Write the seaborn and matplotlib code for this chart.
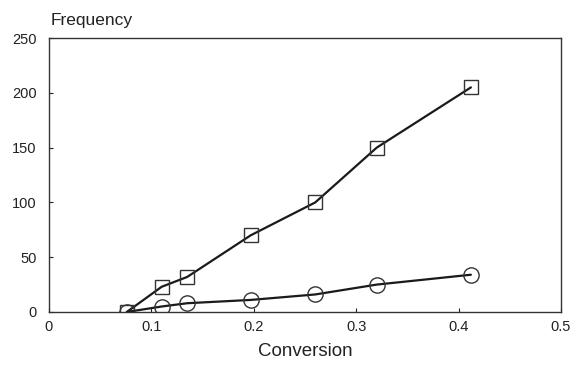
import matplotlib
matplotlib.use("Agg")
import matplotlib.pyplot as plt
import seaborn as sns
import pandas as pd

conversion = [0.076, 0.11, 0.135, 0.197, 0.26, 0.32, 0.412]
freq_square = [0, 23, 32, 70, 100, 150, 205]
freq_circle = [0, 5, 8, 11, 16, 25, 34]
x_ticks = [0, 0.1, 0.2, 0.3, 0.4, 0.5]
x_tick_labels = ["0", "0.1", "0.2", "0.3", "0.4", "0.5"]
y_ticks = [0, 50, 100, 150, 200, 250]

sns.set_theme(style="white")
plt.rcParams['font.family'] = ['Liberation Sans', 'DejaVu Sans']

df = pd.DataFrame({
    "Conversion": conversion * 2,
    "Frequency": freq_square + freq_circle,
    "series": ["square"] * len(conversion) + ["circle"] * len(conversion),
})

fig = plt.figure(figsize=(5.71, 3.70), dpi=100)
ax = fig.add_axes([0.0858, 0.1568, 0.8967, 0.7402])

for name, mk in [("square", "s"), ("circle", "o")]:
    sub = df[df["series"] == name]
    sns.lineplot(data=sub, x="Conversion", y="Frequency", ax=ax, color="#1a1a1a",
                 linewidth=1.6, marker=mk, markersize=10 if mk == "s" else 11,
                 markerfacecolor="none", markeredgecolor="#333333",
                 markeredgewidth=1.0, legend=False)

ax.set_xlim(0, 0.5)
ax.set_ylim(0, 250)
ax.set_xticks(x_ticks)
ax.set_xticklabels(x_tick_labels)
ax.set_yticks(y_ticks)
ax.tick_params(axis="both", direction="in", length=3, width=0.8, labelsize=10.5,
               colors="#222222", bottom=True, left=True)
ax.tick_params(axis="x", pad=6)
ax.tick_params(axis="y", pad=9)
for s in ax.spines.values():
    s.set_color("#333333")
    s.set_linewidth(1.0)
    s.set_visible(True)

ax.set_ylabel("")
ax.set_xlabel("Conversion", fontsize=13.5, color="#222222", labelpad=6)
fig.text(0.088, 0.925, "Frequency", fontsize=12.5, color="#222222", ha="left", va="bottom")

fig.savefig("out.png", dpi=100)
